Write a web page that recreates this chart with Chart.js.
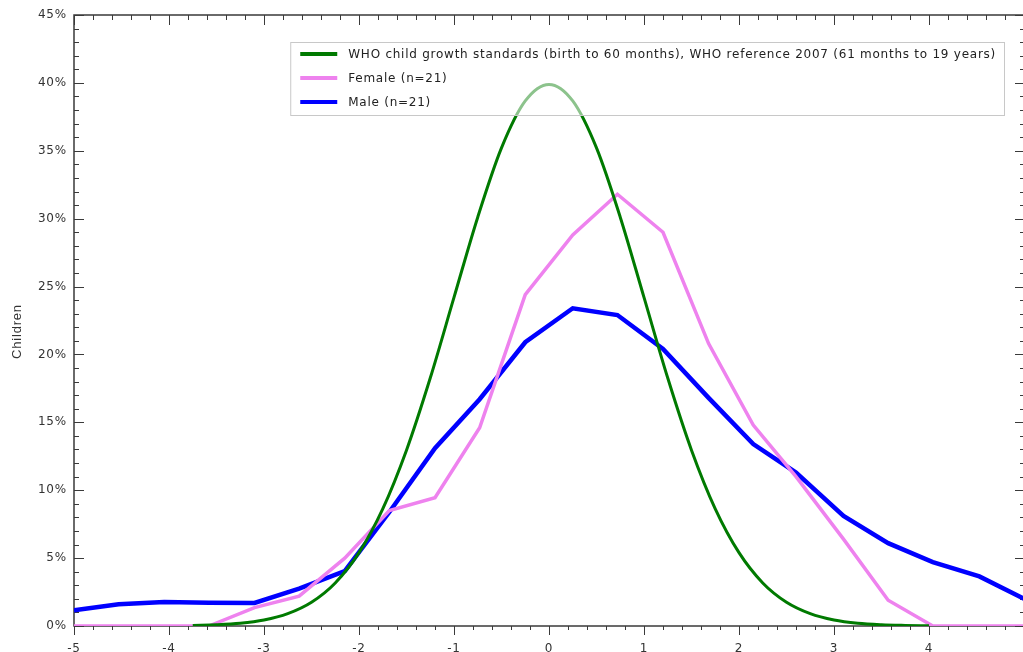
<!DOCTYPE html>
<html>
<head>
<meta charset="utf-8">
<script src="https://cdn.jsdelivr.net/npm/chart.js@4"></script>
<style>
  html, body { margin: 0; padding: 0; background: #fff; overflow: hidden; }
  #wrap { width: 1023px; height: 652px; overflow: hidden; }
</style>
</head>
<body>
<div id="wrap"><canvas id="myChart" width="1040" height="652"></canvas></div>
<script>
// z-score bins of the sample
var zBins = [-5, -4.53, -4.05, -3.58, -3.1, -2.63, -2.15, -1.68, -1.2, -0.73, -0.25,
             0.25, 0.72, 1.2, 1.68, 2.15, 2.6, 3.1, 3.57, 4.04, 4.53, 5];
var femalePct = [0, 0, 0, 0, 1.35, 2.2, 5.0, 8.5, 9.45, 14.6, 24.4,
                 28.8, 31.8, 29.0, 20.8, 14.8, 11.0, 6.4, 1.9, 0, 0, 0];
var malePct = [1.15, 1.6, 1.77, 1.72, 1.7, 2.75, 4.05, 8.4, 13.1, 16.7, 20.9,
               23.4, 22.9, 20.4, 16.8, 13.4, 11.3, 8.1, 6.1, 4.7, 3.65, 2.0];

// WHO reference curve
var whoZ = [-3.75, -3.5, -3.25, -3, -2.75, -2.5, -2.25, -2, -1.75, -1.5, -1.25, -1, -0.75, -0.5, -0.25, 0,
            0.25, 0.5, 0.75, 1, 1.25, 1.5, 1.75, 2, 2.25, 2.5, 2.75, 3, 3.25, 3.5, 3.75, 4];
var whoPct = [0.04, 0.09, 0.2, 0.44, 0.91, 1.75, 3.17, 5.4, 8.63, 12.95, 18.26, 24.2, 30.11, 35.21, 38.67, 39.89,
              38.67, 35.21, 30.11, 24.2, 18.26, 12.95, 8.63, 5.4, 3.17, 1.75, 0.91, 0.44, 0.2, 0.09, 0.04, 0.01];

var labels = ['WHO child growth standards (birth to 60 months), WHO reference 2007 (61 months to 19 years)',
              'Female (n=21)', 'Male (n=21)'];

function pairs(xs, ys) {
  return xs.map(function (v, i) { return { x: v, y: ys[i] }; });
}

var axisColor = '#3a3a3a';

// wider glyph spacing, like the original's screen font
var spacingPlugin = {
  id: 'spacing',
  beforeDraw: function (chart) { chart.ctx.letterSpacing = '0.8px'; }
};

// box round the plot with ticks on every side
var framePlugin = {
  id: 'frame',
  beforeDatasetsDraw: function (chart) {
    var ctx = chart.ctx, a = chart.chartArea, x = chart.scales.x, y = chart.scales.y;
    ctx.save();
    ctx.strokeStyle = axisColor;
    ctx.lineWidth = 1.5;
    ctx.strokeRect(a.left, a.top, a.right - a.left, a.bottom - a.top);
    ctx.lineWidth = 1;
    ctx.beginPath();
    for (var i = 0; i <= 50; i++) {
      var px = Math.round(x.getPixelForValue(x.min + i * 0.2)) + 0.5;
      var major = i % 5 === 0;
      ctx.moveTo(px, a.bottom); ctx.lineTo(px, a.bottom + (major ? 9 : 4));
      ctx.moveTo(px, a.top); ctx.lineTo(px, a.top + (major ? 10 : 5));
    }
    for (var j = 0; j <= 45; j++) {
      var py = Math.round(y.getPixelForValue(j)) + 0.5;
      var maj = j % 5 === 0;
      ctx.moveTo(a.left, py); ctx.lineTo(a.left + (maj ? 10 : 5), py);
      ctx.moveTo(a.right, py); ctx.lineTo(a.right - (maj ? 9 : 4), py);
    }
    ctx.stroke();
    ctx.restore();
  }
};

// legend box laid over the curves
var legendPlugin = {
  id: 'boxLegend',
  afterDatasetsDraw: function (chart) {
    var ctx = chart.ctx, a = chart.chartArea;
    var sets = chart.data.datasets;
    ctx.save();
    ctx.font = '12px "DejaVu Sans"';
    ctx.letterSpacing = '0.75px';
    var w = 0;
    sets.forEach(function (d) { w = Math.max(w, ctx.measureText(d.label).width); });
    var right = a.right - 20, top = a.top + 27;
    var boxW = 10 + 37 + 11 + w + 8, boxH = 73;
    var left = right - boxW;
    ctx.fillStyle = 'rgba(255,255,255,0.55)';
    ctx.fillRect(left, top, boxW, boxH);
    ctx.strokeStyle = '#c8c8c8';
    ctx.lineWidth = 1;
    ctx.strokeRect(left + 0.5, top + 0.5, boxW, boxH);
    sets.forEach(function (d, i) {
      var cy = top + 12 + i * 24;
      ctx.strokeStyle = d.borderColor;
      ctx.lineWidth = 4;
      ctx.beginPath();
      ctx.moveTo(left + 10, cy); ctx.lineTo(left + 47, cy);
      ctx.stroke();
      ctx.fillStyle = '#222';
      ctx.textBaseline = 'middle';
      ctx.fillText(d.label, left + 58, cy + 1);
    });
    ctx.restore();
  }
};

var ctx = document.getElementById('myChart').getContext('2d');
new Chart(ctx, {
  type: 'line',
  data: {
    datasets: [
      {
        label: labels[0],
        data: pairs(whoZ, whoPct),
        borderColor: '#007a00',
        borderWidth: 3,
        cubicInterpolationMode: 'monotone',
        pointRadius: 0,
        fill: false
      },
      {
        label: labels[1],
        data: pairs(zBins, femalePct),
        borderColor: '#ee82ee',
        borderWidth: 3.5,
        pointRadius: 0,
        fill: false
      },
      {
        label: labels[2],
        data: pairs(zBins, malePct),
        borderColor: '#0000ff',
        borderWidth: 4.5,
        pointRadius: 0,
        fill: false
      }
    ]
  },
  options: {
    responsive: false,
    animation: false,
    devicePixelRatio: 1,
    layout: { padding: { top: 15, right: 14, left: 0, bottom: 0 } },
    plugins: {
      legend: { display: false },
      tooltip: { enabled: false }
    },
    scales: {
      x: {
        type: 'linear',
        min: -5,
        max: 5,
        grid: { display: false, drawTicks: false },
        border: { display: false },
        ticks: {
          stepSize: 1,
          padding: 16,
          color: '#333',
          font: { family: '"DejaVu Sans"', size: 12 },
          callback: function (v) { return v === 5 ? '' : v; }
        },
        afterFit: function (s) { s.height = 26; }
      },
      y: {
        min: 0,
        max: 45,
        grid: { display: false, drawTicks: false },
        border: { display: false },
        ticks: {
          stepSize: 5,
          padding: 7,
          color: '#333',
          font: { family: '"DejaVu Sans"', size: 12 },
          callback: function (v) { return v + '%'; }
        },
        title: {
          display: true,
          text: 'Children     ',
          color: '#333',
          padding: { top: 10, bottom: 0 },
          font: { family: '"Liberation Sans", Arial', size: 13 }
        },
        afterFit: function (s) { s.width = 74; }
      }
    }
  },
  plugins: [spacingPlugin, framePlugin, legendPlugin]
});
</script>
</body>
</html>
